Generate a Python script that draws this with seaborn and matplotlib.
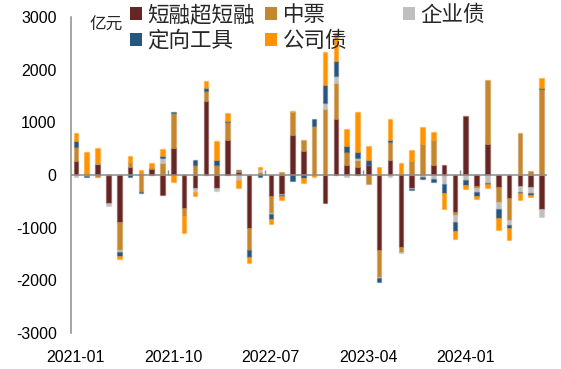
import numpy as np
import pandas as pd
import matplotlib
matplotlib.use("Agg")
import matplotlib.pyplot as plt
from matplotlib.patches import Patch
import seaborn as sns

# monthly net financing by bond type, 亿元
months = pd.period_range("2021-01", "2024-08", freq="M").strftime("%Y-%m").tolist()

dstr = [270, 10, 200, -538, -900, 158, 15, 114, -380, 519, -633,
        -253, 1411, -253, 665, 57, -1000, 10, -400, -361, 750, 460,
        0, -525, 1063, 190, 158, 190, -1424, 285, -1373, -240, 0,
        190, 190, -709, 1127, -203, 589, -234, -430, -209, -222, -646]
mtn = [255, 15, -45, 0, -525, 95, -316, 25, 225, 652, -146,
       184, 184, 184, 342, 38, -424, 50, -330, 57, 443, 210,
       937, 1247, 677, 253, 127, -171, -506, 342, -95, 266, 589,
       475, -20, -51, 0, -44, 1215, -272, -424, 791, 82, 1639]
ent = [-30, -15, 20, -45, -45, 0, 0, 0, 105, 0, 0,
       -63, 0, -51, 0, -95, 0, 60, -15, -15, 0, 0,
       0, 114, 139, -40, 32, 0, -25, -30, -20, -32, -40,
       -82, -160, -127, -101, -70, -146, -133, -95, -108, -114, -146]
ppn = [125, -20, 0, 0, -70, -40, -32, 0, 30, 20, 0,
       101, 51, 95, 25, 0, -127, -40, -95, -25, -114, -65,
       127, 348, 285, 108, 127, 95, -70, 38, 19, -13, -30,
       -44, -165, -177, -89, -76, -25, -171, -57, -32, -44, 19]
corp = [140, 410, 285, 0, -57, 108, 76, 89, 139, -127, -329,
        -80, 146, 370, 139, -146, -127, 35, -82, -70, 30, -90,
        -44, 633, 538, 329, 759, 272, 158, 392, 209, 209, 316,
        146, -300, -152, -70, -70, -82, -234, -228, -127, -32, 177]

series_names = ["短融超短融", "中票", "企业债", "定向工具", "公司债"]
series_vals = [dstr, mtn, ent, ppn, corp]
colors = ["#662624", "#C4862F", "#BFBFBF", "#27557D", "#FF9300"]

sns.set_style("white")
plt.rcParams["font.family"] = ["Liberation Sans", "Noto Sans CJK SC", "DejaVu Sans"]
plt.rcParams["axes.unicode_minus"] = False

fig = plt.figure(figsize=(5.61, 3.69), dpi=100)
ax = fig.add_axes([0.1257, 0.0976, 0.8493, 0.8564])

n = len(months)
pos_base = np.zeros(n)
neg_base = np.zeros(n)
for name, vals, color in zip(series_names, series_vals, colors):
    v = np.array(vals, dtype=float)
    bottom = np.where(v >= 0, pos_base, neg_base)
    sns.barplot(x=months, y=v, bottom=bottom, color=color, saturation=1,
                width=0.42, errorbar=None, ax=ax,
                edgecolor=matplotlib.colors.to_rgba(color, 0.35), linewidth=1.0)
    pos_base += np.clip(v, 0, None)
    neg_base += np.clip(v, None, 0)

# axes styling
ax.set_ylim(-3000, 3000)
ax.set_xlim(-0.5, n - 0.5)
ax.set_yticks(np.arange(-3000, 3001, 1000))
ax.set_yticklabels([str(t) for t in range(-3000, 3001, 1000)])
tick_step = 9
ax.set_xticks(np.arange(0, n, tick_step))
ax.set_xticklabels(months[::tick_step])
ax.set_xlabel("")
ax.set_ylabel("")

for s in ["top", "right", "bottom"]:
    ax.spines[s].set_visible(False)
ax.spines["left"].set_color("#8C8C8C")
ax.spines["left"].set_linewidth(1.1)
ax.tick_params(axis="y", direction="in", length=4, width=1.1, color="#8C8C8C",
               labelsize=11.5, pad=10, labelcolor="black")
ax.tick_params(axis="x", length=0, labelsize=11.5, pad=12, labelcolor="black")

# zero axis line and category ticks
ax.axhline(0, color="#8C8C8C", lw=1.1, zorder=3)
ax.vlines(np.arange(tick_step, n, tick_step) - 0.5, 0, 90, color="#8C8C8C", lw=1.0, zorder=3)

# legend, Excel style equal columns
handles = [Patch(facecolor=c, edgecolor="none") for c in colors]
leg_kw = dict(frameon=False, fontsize=15.5, handlelength=0.55, handleheight=0.55,
              handletextpad=0.25, borderpad=0, borderaxespad=0, labelspacing=0.22)
leg1 = ax.legend([handles[0], handles[3], handles[1], handles[4]],
                 [series_names[0], series_names[3], series_names[1], series_names[4]],
                 ncol=2, columnspacing=0.5, loc="upper left",
                 bbox_to_anchor=(130 / 561, 1 - 5 / 369), bbox_transform=fig.transFigure,
                 **leg_kw)
ax.add_artist(leg1)
ax.legend([handles[2]], [series_names[2]], loc="upper left",
          bbox_to_anchor=(403 / 561, 1 - 5 / 369), bbox_transform=fig.transFigure,
          **leg_kw)

fig.text(89 / 561, 1 - 25 / 369, "亿元", fontsize=12, va="center", ha="left")

fig.savefig("out.png", dpi=100)
